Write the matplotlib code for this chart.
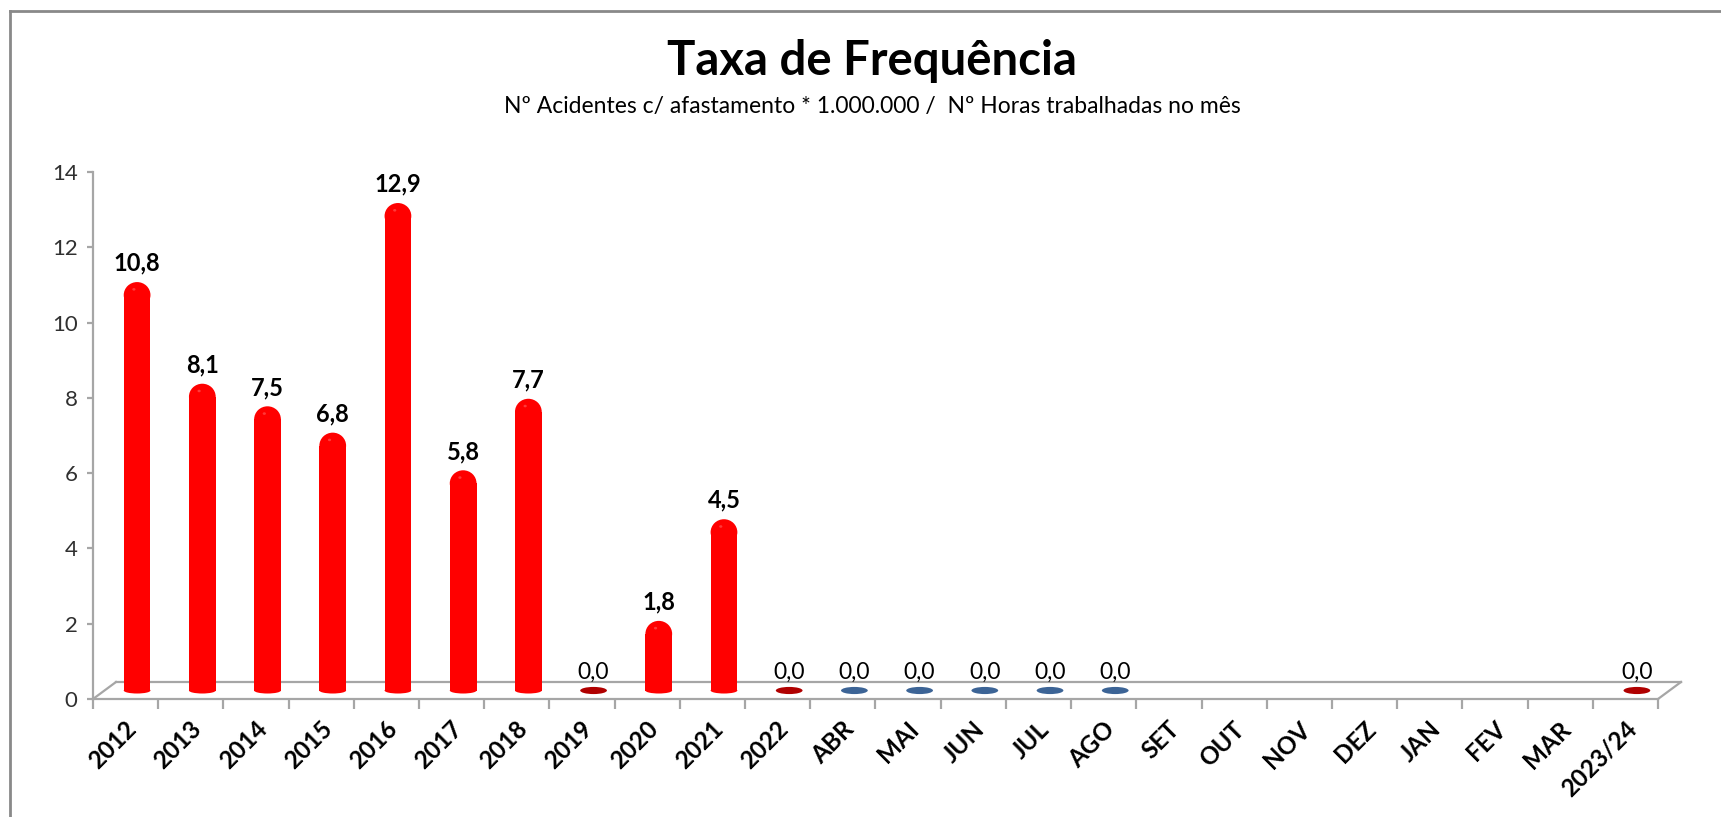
import numpy as np
import matplotlib.pyplot as plt
from matplotlib.patches import Ellipse
from matplotlib.lines import Line2D
from matplotlib.transforms import ScaledTranslation

plt.rcParams['font.family'] = ['Lato', 'DejaVu Sans']

categories = ['2012', '2013', '2014', '2015', '2016', '2017', '2018', '2019', '2020', '2021', '2022',
              'ABR', 'MAI', 'JUN', 'JUL', 'AGO', 'SET', 'OUT', 'NOV', 'DEZ', 'JAN', 'FEV', 'MAR', '2023/24']
values = [10.8, 8.1, 7.5, 6.8, 12.9, 5.8, 7.7, 0.0, 1.8, 4.5, 0.0,
          0.0, 0.0, 0.0, 0.0, 0.0, None, None, None, None, None, None, None, 0.0]
series = ['ano'] * 11 + ['mes'] * 12 + ['ano']
yticks = [0, 2, 4, 6, 8, 10, 12, 14]

titulo = 'Taxa de Frequência'
subtitulo = 'Nº Acidentes c/ afastamento * 1.000.000 /  Nº Horas trabalhadas no mês'

cor_corpo = {'ano': '#FF0000', 'mes': '#4F81BD'}
cor_topo = {'ano': '#B00000', 'mes': '#3C6496'}
cinza = '#A6A6A6'

W, H = 1721, 817
fig = plt.figure(figsize=(W / 100, H / 100), dpi=100)

# eixo da frente (escala e rotulos)
x0, x1, y0, y1 = 93, 1658, 699, 172
pos = [x0 / W, 1 - y0 / H, (x1 - x0) / W, (y0 - y1) / H]
ax = fig.add_axes(pos)
# eixo das barras, deslocado para o meio da profundidade
dx, dy = 11.5, 8.5
axb = fig.add_axes([pos[0] + dx / W, pos[1] + dy / H, pos[2], pos[3]])

n = len(categories)
x = np.arange(n)
for a in (ax, axb):
    a.set_xlim(-0.5, n - 0.5)
    a.set_ylim(0, 14)
    a.patch.set_alpha(0)
axb.axis('off')

for s in ['top', 'right']:
    ax.spines[s].set_visible(False)
for s in ['left', 'bottom']:
    ax.spines[s].set_color(cinza)
    ax.spines[s].set_linewidth(1.6)

ax.set_yticks(yticks)
ax.set_yticklabels([str(t) for t in yticks], fontsize=16, color='#303030')
ax.tick_params(axis='y', length=4, width=1.6, color=cinza, pad=7)

ax.set_xticks(np.arange(n + 1) - 0.5)
ax.set_xticklabels([])
ax.tick_params(axis='x', which='major', length=7, width=1.6, color=cinza)
ax.set_xticks(x, minor=True)
ax.set_xticklabels(categories, minor=True, fontsize=17.5, fontweight='bold', rotation=45,
                   ha='right', va='center', rotation_mode='anchor')
ax.tick_params(axis='x', which='minor', length=0, pad=19)
desloc = ScaledTranslation(0.07, 0, fig.dpi_scale_trans)
for lab in ax.get_xticklabels(minor=True):
    lab.set_transform(lab.get_transform() + desloc)

# piso 3D
prof = ScaledTranslation(23 / 100, 17 / 100, fig.dpi_scale_trans)
tr = ax.transAxes
ax.add_line(Line2D([0, 1], [0, 0], transform=tr + prof, color=cinza, lw=1.6, clip_on=False))
for xa in (0, 1):
    ax.add_line(Line2D([xa, xa + 23 / (x1 - x0)], [0, 17 / (y0 - y1)], transform=tr,
                       color=cinza, lw=1.6, clip_on=False))

# cilindros
larg = 0.41
cap = 0.69
for xi, v, s in zip(x, values, series):
    if v is None:
        continue
    if v == 0:
        axb.add_patch(Ellipse((xi, 0), larg, 0.19, facecolor=cor_topo[s], lw=0, clip_on=False))
        axb.annotate('0,0', (xi, 0), xytext=(0, 8.5), textcoords='offset points',
                     ha='center', va='baseline', fontsize=16.5, color='black')
        continue
    centro = v + 0.05 - cap / 2
    axb.bar(xi, centro, width=larg, color=cor_corpo[s], linewidth=0)
    axb.add_patch(Ellipse((xi, centro), larg, cap, facecolor=cor_corpo[s], lw=0, clip_on=False))
    axb.add_patch(Ellipse((xi, 0), larg, 0.16, facecolor=cor_corpo[s], lw=0, clip_on=False))
    axb.add_patch(Ellipse((xi - larg * 0.12, centro + cap * 0.22), larg * 0.12, cap * 0.1,
                          facecolor='#FF6060', alpha=0.6, lw=0, clip_on=False))
    rot = f'{v:.1f}'.replace('.', ',')
    axb.annotate(rot, (xi, v), xytext=(0, 9.5), textcoords='offset points',
                 ha='center', va='baseline', fontsize=17, fontweight='bold', color='black')

fig.text(872 / W, 1 - 75 / H, titulo, ha='center', va='baseline', fontsize=34, fontweight='bold')
fig.text(872 / W, 1 - 113 / H, subtitulo, ha='center', va='baseline', fontsize=16.5)

# moldura
fig.add_artist(Line2D([10 / W, 1], [1 - 11 / H, 1 - 11 / H], transform=fig.transFigure, color='#898989', lw=2))
fig.add_artist(Line2D([10 / W, 10 / W], [0, 1 - 11 / H], transform=fig.transFigure, color='#898989', lw=2))

fig.savefig('out.png', dpi=100)
